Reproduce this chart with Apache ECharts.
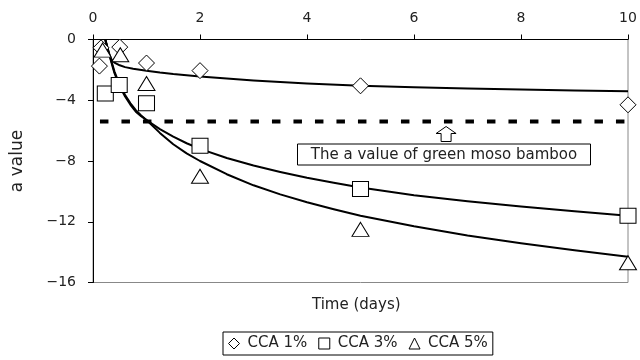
<!DOCTYPE html>
<html><head><meta charset="utf-8">
<script src="https://cdn.jsdelivr.net/npm/echarts@6/dist/echarts.min.js"></script>
<style>html,body{margin:0;padding:0;background:#fff}#c{width:640px;height:360px}</style>
</head><body><div id="c"></div>
<script>
// measured points
const cca1 = [[0.12,-1.75],[0.15,-0.55],[0.5,-0.5],[1,-1.55],[2,-2.05],[5,-3.05],[10,-4.3]];
const cca3 = [[0.23,-3.55],[0.49,-3.0],[1,-4.2],[2,-7.0],[5,-9.85],[10,-11.6]];
const cca5 = [[0.18,-0.7],[0.51,-1.0],[1,-2.9],[2,-9.0],[5,-12.5],[10,-14.7]];
// fitted curves
const fit1 = [[0.23,0],[0.27,-0.6],[0.3,-1.0],[0.35,-1.33],[0.4,-1.52],[0.5,-1.7],[0.6,-1.82],[0.75,-1.93],[1,-2.05],[1.25,-2.17],[1.5,-2.27],[2,-2.43],[2.5,-2.57],[3,-2.7],[4,-2.89],[5,-3.04],[6,-3.14],[7,-3.22],[8,-3.29],[9,-3.35],[10,-3.4]];
const fit3 = [[0.23,0],[0.3,-0.9],[0.4,-2.1],[0.5,-3.0],[0.6,-3.65],[0.7,-4.2],[0.8,-4.65],[0.9,-5.0],[1,-5.3],[1.25,-5.9],[1.5,-6.4],[1.75,-6.83],[2,-7.2],[2.5,-7.8],[3,-8.3],[3.5,-8.72],[4,-9.1],[4.5,-9.43],[5,-9.75],[6,-10.25],[7,-10.65],[8,-11.0],[9,-11.31],[10,-11.6]];
const fit5 = [[0.23,0],[0.3,-0.95],[0.4,-2.2],[0.5,-3.1],[0.6,-3.75],[0.7,-4.3],[0.8,-4.75],[0.9,-5.05],[1,-5.3],[1.25,-6.15],[1.5,-6.9],[1.75,-7.5],[2,-8.0],[2.5,-8.87],[3,-9.6],[3.5,-10.2],[4,-10.72],[4.5,-11.18],[5,-11.6],[6,-12.3],[7,-12.9],[8,-13.42],[9,-13.88],[10,-14.3]];
const bambooValue = -5.4;
const bambooRange = [0.13, 10];
const names = ['CCA 1%','CCA 3%','CCA 5%'];
const xTicks = {min:0,max:10,interval:2};
const yTicks = {min:-16,max:0,interval:4};

const FONT = 'DejaVu Sans';
const chart = echarts.init(document.getElementById('c'), null, {renderer:'canvas'});
const mk = {color:'#fff', borderColor:'#000', borderWidth:1, opacity:1};
const lineS = (d) => ({type:'line', data:d, smooth:false, showSymbol:false, silent:true, z:3,
  lineStyle:{color:'#000', width:2, join:'round'}, legendHoverLink:false});
chart.setOption({
  animation:false,
  textStyle:{fontFamily:FONT},
  grid:{left:93, right:12, top:39.5, bottom:77.5, show:true, borderColor:'#888', borderWidth:1, backgroundColor:'transparent'},
  xAxis:{type:'value', position:'top', min:xTicks.min, max:xTicks.max, interval:xTicks.interval,
    axisLine:{show:true, lineStyle:{color:'#000', width:1}},
    axisTick:{show:true, inside:false, length:5, lineStyle:{color:'#000'}},
    axisLabel:{fontSize:14, color:'#222', margin:14, fontFamily:FONT},
    splitLine:{show:false}},
  yAxis:{type:'value', min:yTicks.min, max:yTicks.max, interval:yTicks.interval,
    name:'a value', nameLocation:'middle', nameGap:67, nameRotate:90,
    nameTextStyle:{fontSize:17, color:'#222', fontFamily:FONT},
    axisLine:{show:true, lineStyle:{color:'#000', width:1}},
    axisTick:{show:true, inside:false, length:5, lineStyle:{color:'#000'}},
    axisLabel:{fontSize:14, color:'#222', margin:17, fontFamily:FONT, formatter:v=>String(v).replace('-','\u2212')},
    splitLine:{show:false}},
  legend:{data:names, left:223, top:332, orient:'horizontal', padding:[4,5,4,5], itemGap:11,
    itemWidth:11, itemHeight:11, borderColor:'#000', borderWidth:1, backgroundColor:'#fff',
    itemStyle:{color:'#fff', borderColor:'#000', borderWidth:1},
    textStyle:{fontSize:15, color:'#222', fontFamily:FONT, padding:[0,0,0,3]}, selectedMode:false},
  series:[
    lineS(fit1), lineS(fit3), lineS(fit5),
    {type:'line', data:[[bambooRange[0],bambooValue],[bambooRange[1],bambooValue]], showSymbol:false, silent:true, z:2,
      lineStyle:{color:'#000', width:4, type:[8.5,13]}},
    {name:names[0], type:'scatter', data:cca1, symbol:'diamond', symbolSize:[16,16], itemStyle:mk, z:4},
    {name:names[1], type:'scatter', data:cca3, symbol:'rect', symbolSize:[16,15], itemStyle:mk, z:4},
    {name:names[2], type:'scatter', data:cca5, symbol:'triangle', symbolSize:[17,14], itemStyle:mk, z:4}
  ]
});
// annotation positioned via data coordinates
const anchor = chart.convertToPixel({gridIndex:0}, [6.6, bambooValue]);
const ax = anchor[0], ay = anchor[1];
chart.setOption({graphic:[
  {type:'polygon', shape:{points:[[ax,ay+5],[ax+10,ay+12],[ax+5,ay+12],[ax+5,ay+20],[ax-5,ay+20],[ax-5,ay+12],[ax-10,ay+12]]},
    style:{fill:'#fff', stroke:'#000', lineWidth:1}, z:10},
  {type:'group', left:297, top:143.5, z:10, children:[
    {type:'rect', shape:{x:0,y:0,width:293,height:21}, style:{fill:'#fff', stroke:'#000', lineWidth:1}},
    {type:'text', x:146.5, y:11, style:{text:'The a value of green moso bamboo', fontSize:15, fontFamily:FONT, fill:'#222', align:'center', verticalAlign:'middle'}}
  ]},
  {type:'text', left:312, top:298, style:{text:'Time (days)', fontSize:15, fontFamily:FONT, fill:'#222'}}
]});
</script></body></html>
